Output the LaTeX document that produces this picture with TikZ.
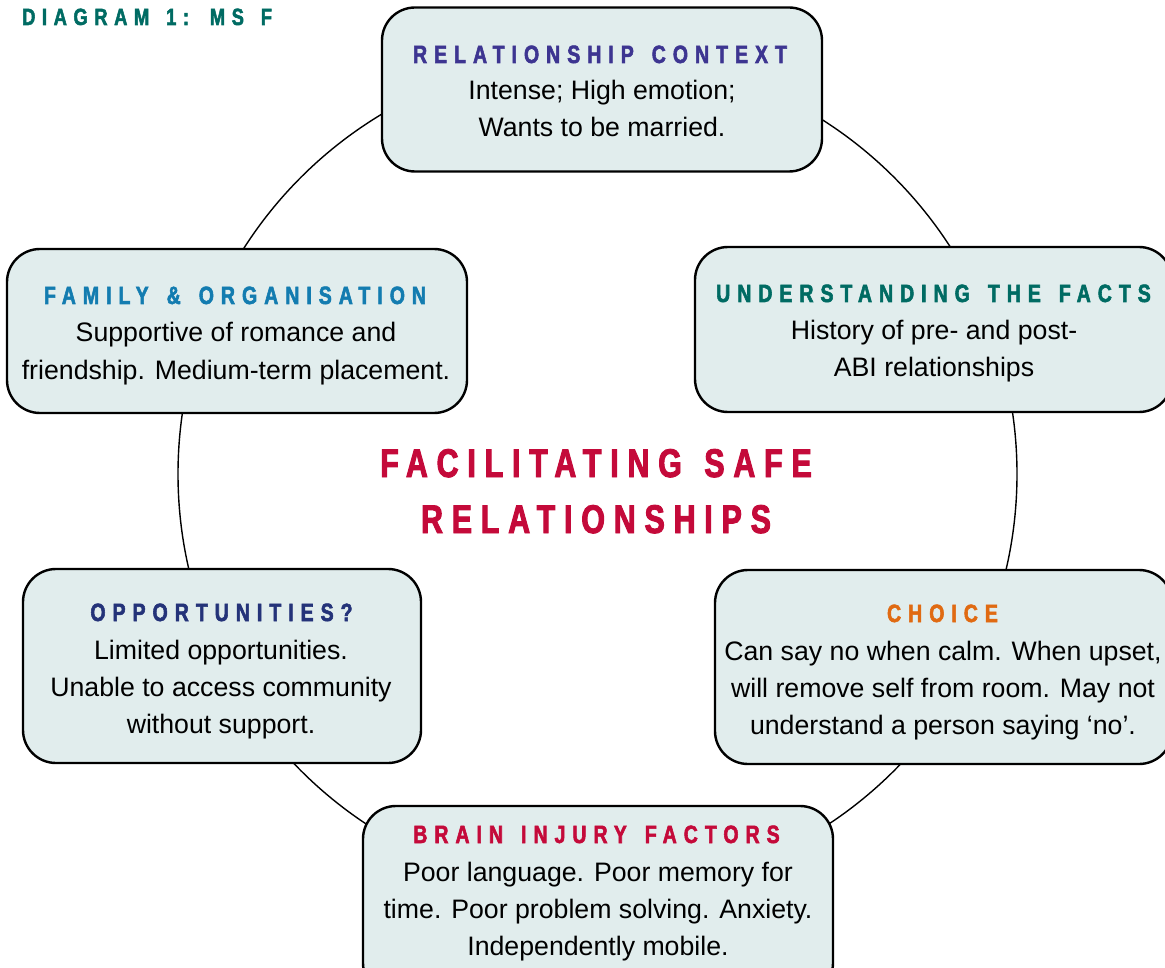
\documentclass[tikz,border=0pt]{standalone}
\usepackage{fontspec}
\setmainfont{Liberation Sans}
\newfontfamily\headfont[FakeStretch=0.78,FakeBold=2.2,LetterSpace=28,WordSpace=1.45]{Liberation Sans Bold}
\newfontfamily\bigfont[FakeStretch=0.76,FakeBold=2.4,LetterSpace=22,WordSpace=1.3]{Liberation Sans Bold}
\definecolor{boxfill}{HTML}{E1EDED}
\definecolor{cteal}{HTML}{006B63}
\definecolor{cpurple}{HTML}{3D3591}
\definecolor{cblue}{HTML}{137CB0}
\definecolor{cnavy}{HTML}{243379}
\definecolor{corange}{HTML}{E06A12}
\definecolor{ccrimson}{HTML}{C40A3A}
\begin{document}
\begin{tikzpicture}[x=1pt,y=-1pt,
  box/.style={draw=black,line width=2.4pt,fill=boxfill,rounded corners=33pt,inner sep=0pt},
  ring/.style={draw=black,line width=1.4pt,circle,inner sep=0pt,minimum size=839pt},
  head/.style={anchor=base,inner sep=0pt,font=\headfont\fontsize{25}{30}\selectfont},
  body/.style={anchor=base,inner sep=0pt,align=center,font=\fontsize{26.7}{37}\selectfont,text=black},
  big/.style={anchor=base,inner sep=0pt,text=ccrimson,font=\bigfont\fontsize{40}{56}\selectfont}]
\clip (0,0) rectangle (1165,968);
\node[ring] (ring) at (597.5,474) {};
% title
\node[head,anchor=base west,text=cteal,font=\headfont\fontsize{23.5}{30}\selectfont] (title) at (22,25) {DIAGRAM 1: MS F};
% boxes
\node[box,minimum width=440pt,minimum height=164pt] (rcbox) at (602,89.5) {};
\node[box,minimum width=460pt,minimum height=164pt] (fobox) at (237,331) {};
\node[box,minimum width=477pt,minimum height=165pt] (ufbox) at (933.5,329.5) {};
\node[box,minimum width=398pt,minimum height=194pt] (opbox) at (222,666) {};
\node[box,minimum width=457pt,minimum height=194pt] (chbox) at (943.5,667) {};
\node[box,minimum width=470pt,minimum height=190pt] (bibox) at (598,901) {};
% texts (body anchor = baseline of last line)
\node[head,text=cpurple] (rchead) at (600,63) {RELATIONSHIP CONTEXT};
\node[body] (rcbody) at (602,137) {Intense; High emotion;\\Wants to be married.};
\node[head,text=cblue] (fohead) at (235,304) {FAMILY \& ORGANISATION};
\node[body] (fobody) at (236,379) {Supportive of romance and\\friendship. Medium-term placement.};
\node[head,text=cteal] (ufhead) at (933.5,302) {UNDERSTANDING THE FACTS};
\node[body] (ufbody) at (934,377) {History of pre- and post-\\ABI relationships};
\node[big] (ctitle1) at (596,477) {FACILITATING SAFE};
\node[big] (ctitle2) at (596,533) {RELATIONSHIPS};
\node[head,text=cnavy] (ophead) at (221.5,621) {OPPORTUNITIES?};
\node[body] (opbody) at (221,733) {Limited opportunities.\\Unable to access community\\without support.};
\node[head,text=corange] (chhead) at (942.5,622) {CHOICE};
\node[body] (chbody) at (943,734) {Can say no when calm. When upset,\\will remove self from room. May not\\understand a person saying ‘no’.};
\node[head,text=ccrimson] (bihead) at (596.5,843) {BRAIN INJURY FACTORS};
\node[body] (bibody) at (598,955) {Poor language. Poor memory for\\time. Poor problem solving. Anxiety.\\Independently mobile.};
\end{tikzpicture}
\end{document}
